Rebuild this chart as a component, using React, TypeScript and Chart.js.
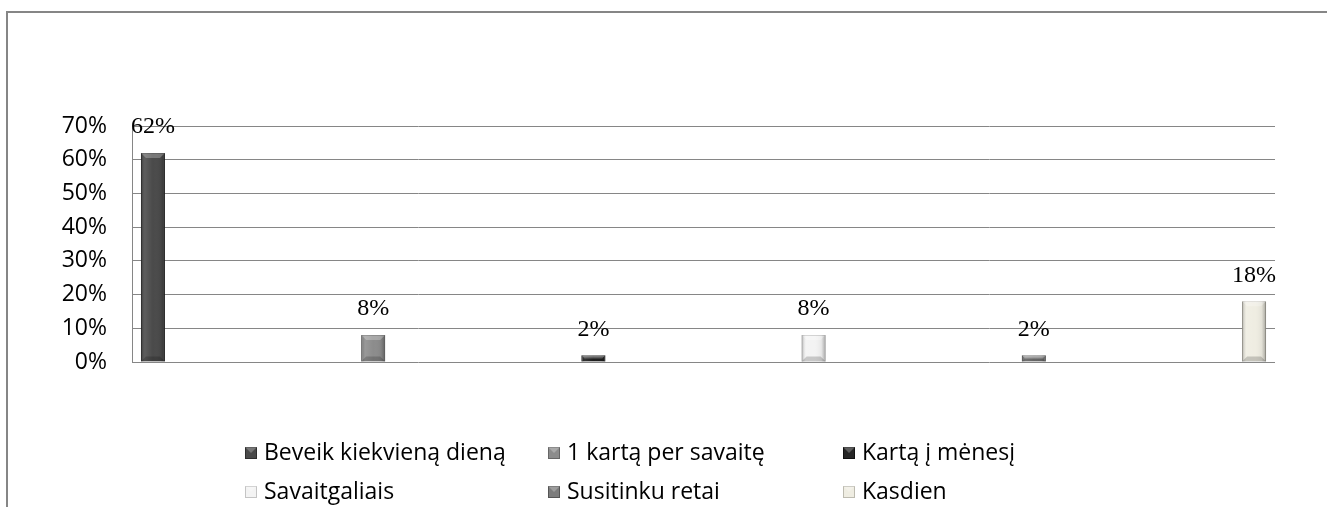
import React, { useEffect, useRef } from "react";
import { Chart, registerables } from "chart.js";

Chart.register(...registerables);

const seriesNames = [
  "Beveik kiekvieną dieną",
  "1 kartą per savaitę",
  "Kartą į mėnesį",
  "Savaitgaliais",
  "Susitinku retai",
  "Kasdien",
];
const seriesValues = [62, 8, 2, 8, 2, 18];
const seriesColors = ["#4a4a4a", "#8c8c8c", "#262626", "#f3f3f3", "#7c7c7c", "#efede2"];
const seriesBorders = ["#2e2e2e", "#666666", "#111111", "#c4c4c4", "#555555", "#bdbbb0"];
const categories = [""];
const yTicks = { min: 0, max: 70, step: 10 };

const TICK_FONT = "'Open Sans', 'DejaVu Sans', sans-serif";
const LABEL_FONT = "'Liberation Serif', 'DejaVu Serif', serif";

const bevelPlugin = {
  id: "bevel",
  afterDatasetsDraw(chart: any) {
    const ctx = chart.ctx;
    ctx.save();
    chart.data.datasets.forEach((_: any, i: number) => {
      const meta = chart.getDatasetMeta(i);
      meta.data.forEach((bar: any) => {
        const { x, y, base, width } = bar.getProps(["x", "y", "base", "width"], true);
        const l = x - width / 2;
        const h = base - y;
        if (h <= 0) return;
        const g = ctx.createLinearGradient(l, 0, l + width, 0);
        g.addColorStop(0, "rgba(0,0,0,0.28)");
        g.addColorStop(0.18, "rgba(255,255,255,0.10)");
        g.addColorStop(0.5, "rgba(255,255,255,0.0)");
        g.addColorStop(0.82, "rgba(0,0,0,0.05)");
        g.addColorStop(1, "rgba(0,0,0,0.30)");
        ctx.fillStyle = g;
        ctx.fillRect(l, y, width, h);
        const b = Math.min(5, h / 2);
        ctx.fillStyle = "rgba(255,255,255,0.25)";
        ctx.beginPath();
        ctx.moveTo(l, y);
        ctx.lineTo(l + width, y);
        ctx.lineTo(l + width - b, y + b);
        ctx.lineTo(l + b, y + b);
        ctx.closePath();
        ctx.fill();
        ctx.fillStyle = "rgba(0,0,0,0.18)";
        ctx.beginPath();
        ctx.moveTo(l, base);
        ctx.lineTo(l + width, base);
        ctx.lineTo(l + width - b, base - b);
        ctx.lineTo(l + b, base - b);
        ctx.closePath();
        ctx.fill();
      });
    });
    ctx.restore();
  },
};

const valueLabelPlugin = {
  id: "valueLabels",
  afterDatasetsDraw(chart: any) {
    const ctx = chart.ctx;
    ctx.save();
    ctx.font = `24px ${LABEL_FONT}`;
    ctx.fillStyle = "#000";
    ctx.textAlign = "center";
    ctx.textBaseline = "middle";
    chart.data.datasets.forEach((ds: any, i: number) => {
      const meta = chart.getDatasetMeta(i);
      meta.data.forEach((bar: any, j: number) => {
        const v = ds.data[j];
        if (v == null) return;
        ctx.fillText(`${v}%`, bar.x, bar.y - 26);
      });
    });
    ctx.restore();
  },
};

const legendPlugin = {
  id: "gridLegend",
  afterDraw(chart: any) {
    const ctx = chart.ctx;
    const cols = [245, 548, 843];
    const rows = [453, 492];
    ctx.save();
    ctx.font = `23px ${TICK_FONT}`;
    ctx.textBaseline = "middle";
    ctx.textAlign = "left";
    chart.data.datasets.forEach((ds: any, i: number) => {
      const cx = cols[i % 3];
      const cy = rows[Math.floor(i / 3)];
      const s = 12;
      const bx = cx;
      const by = cy - s / 2;
      ctx.fillStyle = ds.backgroundColor;
      ctx.fillRect(bx, by, s, s);
      ctx.strokeStyle = ds.borderColor;
      ctx.lineWidth = 1;
      ctx.strokeRect(bx + 0.5, by + 0.5, s - 1, s - 1);
      ctx.fillStyle = "rgba(255,255,255,0.25)";
      ctx.beginPath();
      ctx.moveTo(bx, by);
      ctx.lineTo(bx + s, by);
      ctx.lineTo(bx + s / 2, by + s / 2);
      ctx.closePath();
      ctx.fill();
      ctx.fillStyle = "#000";
      ctx.fillText(ds.label, cx + 19, cy);
    });
    ctx.restore();
  },
};

export default function App() {
  const ref = useRef<HTMLCanvasElement | null>(null);
  useEffect(() => {
    if (!ref.current) return;
    const chart = new Chart(ref.current, {
      type: "bar",
      data: {
        labels: categories,
        datasets: seriesNames.map((name, i) => ({
          label: name,
          data: [seriesValues[i]],
          backgroundColor: seriesColors[i],
          borderColor: seriesBorders[i],
          borderWidth: 1,
        })),
      },
      options: {
        animation: false,
        responsive: false,
        maintainAspectRatio: false,
        categoryPercentage: 1.156,
        barPercentage: 0.109,
        layout: { padding: { left: 0, top: 126, right: 52, bottom: 145 } },
        plugins: {
          legend: { display: false },
          tooltip: { enabled: false },
          title: { display: false },
        },
        scales: {
          x: { display: false },
          y: {
            min: yTicks.min,
            max: yTicks.max,
            afterFit: (scale: any) => {
              scale.width = 132;
            },
            ticks: {
              stepSize: yTicks.step,
              callback: (v: any) => `${v}%`,
              font: { family: TICK_FONT, size: 23 },
              color: "#000",
              padding: 25,
            },
            grid: { color: "#868686", lineWidth: 1, drawTicks: false },
            border: { display: true, color: "#868686", width: 1 },
          },
        },
      },
      plugins: [bevelPlugin, valueLabelPlugin, legendPlugin],
    } as any);
    return () => chart.destroy();
  }, []);

  return (
    <div style={{ position: "fixed", left: 0, top: 0, width: 1327, height: 507, background: "#fff", overflow: "hidden" }}>
      <div
        style={{
          position: "absolute",
          left: 6,
          top: 11,
          width: 1400,
          height: 700,
          border: "2px solid #868686",
          boxSizing: "border-box",
        }}
      />
      <canvas ref={ref} width={1327} height={507} style={{ position: "absolute", left: 0, top: 0 }} />
    </div>
  );
}
